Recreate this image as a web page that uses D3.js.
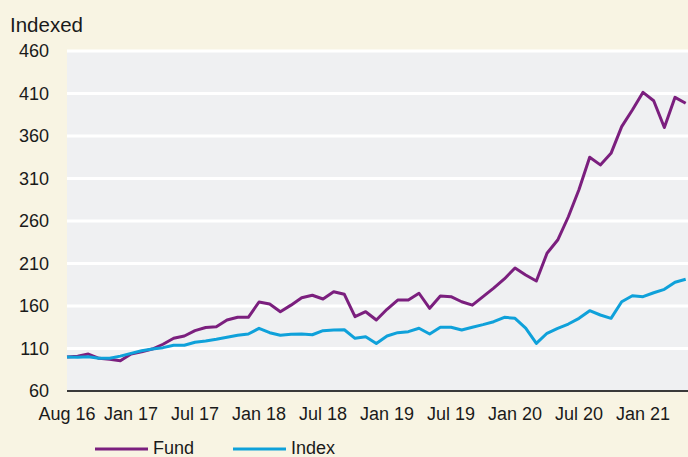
<!DOCTYPE html>
<html>
<head>
<meta charset="utf-8">
<script src="https://cdn.jsdelivr.net/npm/d3@7"></script>
<style>
  html, body { margin: 0; padding: 0; background: #f8f4e3; }
  svg { display: block; font-family: "Liberation Sans", Arial, sans-serif; }
</style>
</head>
<body>
<div id="chart"></div>
<script>
// monthly values, Aug 16 .. Jun 21
const fund = [100, 101, 103.5, 98.5, 97.3, 95.6, 103.5, 106, 109.4, 115, 122, 124.7, 131, 134.7, 135.6,
  143.5, 146.7, 146.7, 164.7, 162.4, 153.3, 161, 169.8, 172.6, 168.2, 176.8, 173.8, 147.4, 153.3, 143.5,
  156.1, 167, 167, 175, 157.3, 171.8, 171, 165, 161, 171, 181, 191.8, 204.7, 196.5, 189.4, 222, 237.6,
  265, 297, 335, 326, 339.6, 371, 390.6, 411.4, 401.5, 370, 405.5, 398.5];
const index = [100, 99.6, 100.4, 98.5, 98.5, 101, 104.3, 107.4, 109.4, 111, 113.8, 113.8, 117.3, 118.8,
  120.8, 123.2, 125.5, 127, 133.7, 128.6, 125.5, 126.7, 127, 126.2, 131, 131.8, 132.1, 122, 123.9, 116,
  124.7, 128.6, 129.8, 133.8, 127, 135, 135, 131.8, 135, 138.1, 141.5, 146.7, 145.5, 134, 116, 127.9,
  133.8, 138.8, 145.5, 154.5, 149.4, 145.5, 165, 172, 171, 175.6, 179.6, 188, 191.4];
const xTickPos = [0, 6, 12, 18, 24, 30, 36, 42, 48, 54];
const xTickLabels = ["Aug 16", "Jan 17", "Jul 17", "Jan 18", "Jul 18", "Jan 19", "Jul 19", "Jan 20", "Jul 20", "Jan 21"];
const yTicks = [60, 110, 160, 210, 260, 310, 360, 410, 460];
const seriesNames = ["Fund", "Index"];
const seriesColors = ["#7b1f7e", "#0fa1da"];

const W = 688, H = 457;
const m = {left: 67, right: 688, top: 50, bottom: 391};

const svg = d3.select("#chart").append("svg")
  .attr("width", W).attr("height", H);

svg.append("rect").attr("width", W).attr("height", H).attr("fill", "#f8f4e3");

const x = d3.scaleLinear().domain([0, 58]).range([m.left, m.left + 58 * 10.667]);
const y = d3.scaleLinear().domain([60, 460]).range([m.bottom, 51]);

svg.append("rect")
  .attr("x", m.left).attr("y", m.top)
  .attr("width", m.right - m.left).attr("height", m.bottom - m.top)
  .attr("fill", "#eff0f2");

// gridlines
svg.append("g").selectAll("line")
  .data(yTicks.filter(d => d > 60))
  .enter().append("line")
  .attr("x1", m.left).attr("x2", m.right)
  .attr("y1", d => y(d)).attr("y2", d => y(d))
  .attr("stroke", "#ffffff").attr("stroke-width", 3);

// y labels
svg.append("g").selectAll("text")
  .data(yTicks)
  .enter().append("text")
  .attr("x", 49).attr("y", d => y(d))
  .attr("dy", "0.35em")
  .attr("text-anchor", "end")
  .style("font-size", "18px").style("fill", "#1a1a1a")
  .text(d => d);

svg.append("text")
  .attr("x", 10).attr("y", 32)
  .style("font-size", "20.5px").style("fill", "#1a1a1a")
  .text("Indexed");

// lines
const line = d3.line().x((d, i) => x(i)).y(d => y(d));
[fund, index].forEach((s, k) => {
  svg.append("path")
    .datum(s)
    .attr("d", line)
    .attr("fill", "none")
    .attr("stroke", seriesColors[k])
    .attr("stroke-width", 3)
    .attr("stroke-linejoin", "round");
});

// x axis line
svg.append("line")
  .attr("x1", m.left).attr("x2", m.right)
  .attr("y1", m.bottom).attr("y2", m.bottom)
  .attr("stroke", "#3a3a3a").attr("stroke-width", 2);

svg.append("g").selectAll("text")
  .data(xTickPos)
  .enter().append("text")
  .attr("x", d => x(d)).attr("y", 420)
  .attr("text-anchor", "middle")
  .style("font-size", "18px").style("fill", "#1a1a1a")
  .text((d, i) => xTickLabels[i]);

// legend (sits at the very bottom edge, like the original)
const legX = [95, 233];
seriesNames.forEach((n, k) => {
  svg.append("line")
    .attr("x1", legX[k]).attr("x2", legX[k] + 53)
    .attr("y1", 449).attr("y2", 449)
    .attr("stroke", seriesColors[k]).attr("stroke-width", 3);
  svg.append("text")
    .attr("x", legX[k] + 58).attr("y", 454)
    .style("font-size", "18px").style("fill", "#1a1a1a")
    .text(n);
});
</script>
</body>
</html>
